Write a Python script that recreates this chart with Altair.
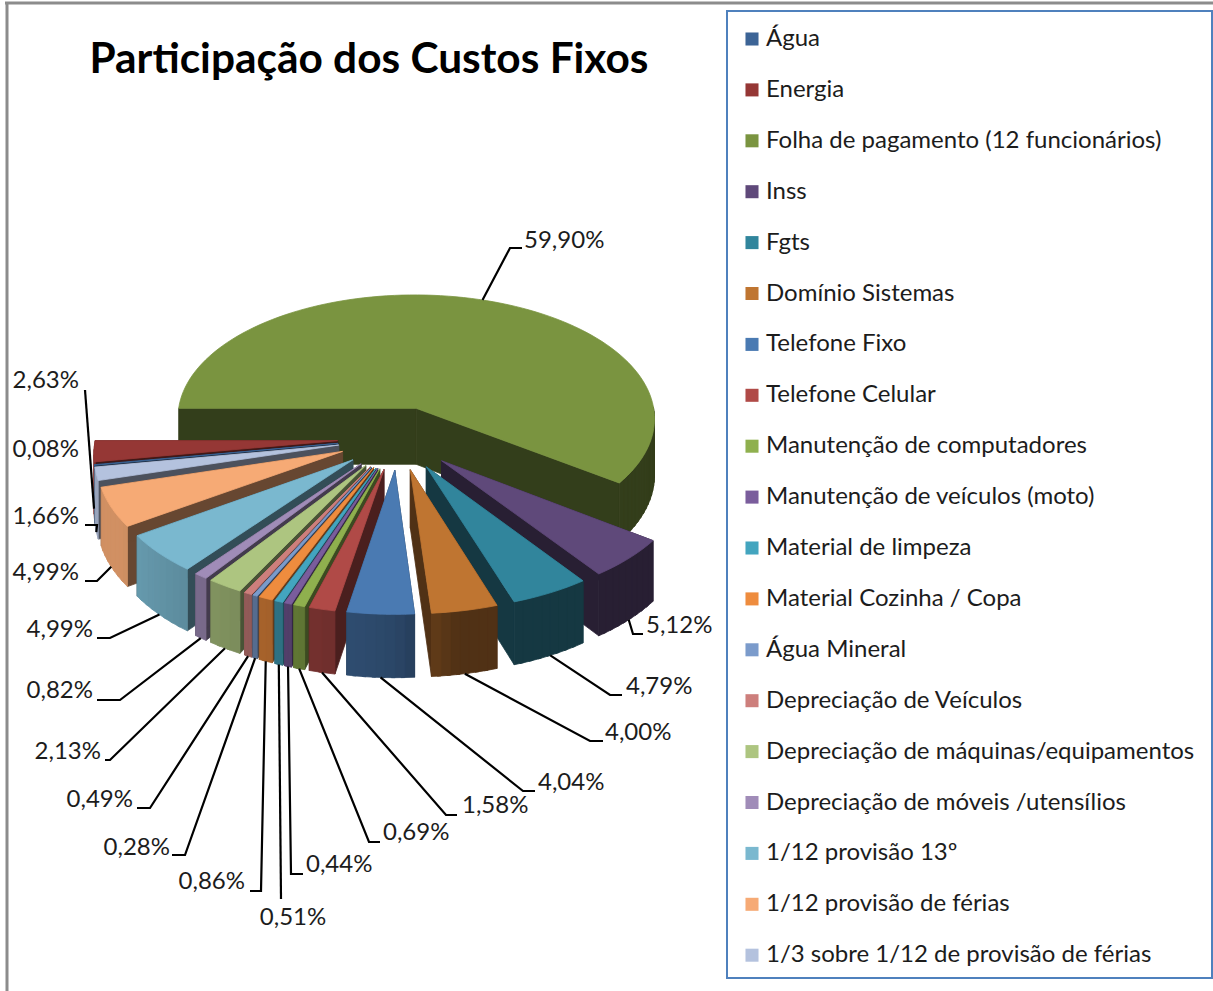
import math
import numpy as np
import altair as alt

# Cost categories, in legend order, with their share of the fixed costs (%)
categories = [
    "Água", "Energia", "Folha de pagamento (12 funcionários)", "Inss", "Fgts",
    "Domínio Sistemas", "Telefone Fixo", "Telefone Celular",
    "Manutenção de computadores", "Manutenção de veículos (moto)",
    "Material de limpeza", "Material Cozinha / Copa", "Água Mineral",
    "Depreciação de Veículos", "Depreciação de máquinas/equipamentos",
    "Depreciação de móveis /utensílios", "1/12 provisão 13º",
    "1/12 provisão de férias", "1/3 sobre 1/12 de provisão de férias",
]
shares = [0.08, 2.63, 59.90, 5.12, 4.79, 4.00, 4.04, 1.58, 0.69, 0.44,
          0.51, 0.86, 0.28, 0.49, 2.13, 0.82, 4.99, 4.99, 1.66]
palette = ["#3c6496", "#953735", "#7a9440", "#5f497a", "#31859c", "#bf7531",
           "#4a7ab2", "#b04a47", "#8fb04e", "#7a5d9c", "#43a5bf", "#ee8c3e",
           "#7b9bcb", "#cd7f7c", "#adc580", "#a08cb8", "#7ab8cf", "#f6aa75",
           "#b4c2de"]

# Pie projection: a tilted disc with mild perspective, extruded downwards
CX, CY = 398, 438
RX, RY = 242, 127
PERSPECTIVE = 0.08
DEPTH = 57
EXPLODE = 0.25
START_ANGLE = 260.24
RIM_OVERLAP = 0.8


def project(x, y, z=0.0):
    p = 1 / (1 + PERSPECTIVE * y)
    return [CX + RX * x * p, CY - RY * y * p + DEPTH * p * z]


def shade(hex_color, factor):
    r, g, b = (int(hex_color[i:i + 2], 16) for i in (1, 3, 5))
    return "#%02x%02x%02x" % (round(r * factor), round(g * factor), round(b * factor))


def rim_shade(angle):
    return float(np.interp(angle % 360, [90, 170, 180, 200, 240, 270], [.42, .42, .58, .68, .85, .85]))


def cut_shade(mid, edge):
    if mid < 180 or mid > 360:
        return 0.42
    return float(np.interp(edge, [190, 218, 236, 254], [.82, .65, .5, .43]))


def polygon(points, fill):
    ring = points + [points[0]]
    return {"type": "Feature", "properties": {"fill": fill},
            "geometry": {"type": "Polygon", "coordinates": [ring]}}


# Angular extent of every slice, clockwise from twelve o'clock
slices = []
angle = START_ANGLE
for name, share, colour in zip(categories, shares, palette):
    sweep = share * 3.6
    slices.append({"name": name, "share": share, "colour": colour,
                   "start": angle, "end": angle + sweep, "mid": angle + sweep / 2})
    angle += sweep


def disc_point(s, t, r=1.0):
    ox = EXPLODE * math.sin(math.radians(s["mid"]))
    oy = EXPLODE * math.cos(math.radians(s["mid"]))
    return ox + r * math.sin(math.radians(t)), oy + r * math.cos(math.radians(t))


faces = []
# Paint from the back of the disc towards the viewer
for s in sorted(slices, key=lambda item: -disc_point(item, item["mid"])[1]):
    apex = disc_point(s, s["mid"], 0)
    steps = max(2, int((s["end"] - s["start"]) / 2))
    arc = [s["start"] + (s["end"] - s["start"]) * i / steps for i in range(steps + 1)]
    for edge in (s["start"], s["end"]):
        outer = disc_point(s, edge)
        faces.append(polygon(
            [project(*apex), project(*outer), project(*outer, 1), project(*apex, 1)],
            shade(s["colour"], cut_shade(s["mid"], edge % 360))))
    # Rim strips overlap a little so that no seam shows between neighbours
    for a0, a1 in zip(arc, arc[1:]):
        centre = (a0 + a1) / 2 % 360
        if 90 <= centre <= 270:
            p0 = disc_point(s, a0)
            mid_arc = [disc_point(s, a1)]
            far = min(a1 + RIM_OVERLAP, s["end"])
            if far > a1:
                mid_arc.append(disc_point(s, far))
            faces.append(polygon(
                [project(*p0)] + [project(*p) for p in mid_arc]
                + [project(*p, 1) for p in reversed(mid_arc)] + [project(*p0, 1)],
                shade(s["colour"], rim_shade(centre))))
    faces.append(polygon([project(*apex)] + [project(*disc_point(s, t)) for t in arc], s["colour"]))

# Callout layout: elbow of each leader, end of its shelf, label anchor and alignment
callouts = {
    "Folha de pagamento (12 funcionários)": ((510, 248), (522, 248), (524, 241), "left"),
    "Inss": ((633, 634), (643, 634), (646, 626), "left"),
    "Fgts": ((610, 695), (622, 695), (626, 687), "left"),
    "Domínio Sistemas": ((590, 741), (603, 741), (605, 733), "left"),
    "Telefone Fixo": ((523, 791), (535, 791), (538, 783), "left"),
    "Telefone Celular": ((446, 815), (457, 815), (462, 806), "left"),
    "Manutenção de computadores": ((369, 842), (380, 842), (383, 833), "left"),
    "Manutenção de veículos (moto)": ((291, 874), (303, 874), (306, 865), "left"),
    "Material de limpeza": ((281, 899), (281, 899), (293, 918), "center"),
    "Material Cozinha / Copa": ((261, 891), (250, 891), (245, 882), "right"),
    "Água Mineral": ((185, 855), (172, 855), (170, 848), "right"),
    "Depreciação de Veículos": ((150, 808), (137, 808), (133, 800), "right"),
    "Depreciação de máquinas/equipamentos": ((110, 760), (105, 760), (101, 752), "right"),
    "Depreciação de móveis /utensílios": ((120, 700), (97, 700), (93, 691), "right"),
    "1/12 provisão 13º": ((110, 638), (97, 638), (93, 630), "right"),
    "1/12 provisão de férias": ((97, 581), (85, 581), (79, 573), "right"),
    "1/3 sobre 1/12 de provisão de férias": ((97, 525), (85, 525), (79, 517), "right"),
    "Energia": ((85, 390), (85, 390), (79, 381), "right"),
    "Água": (None, None, (79, 450), "right"),
}

leaders, labels = [], []
for s in slices:
    elbow, shelf, anchor, align = callouts[s["name"]]
    labels.append({"text": f"{s['share']:.2f}".replace(".", ",") + "%",
                   "x": anchor[0], "y": anchor[1], "align": align})
    if elbow is None:
        continue
    rim = disc_point(s, s["mid"])
    z = 1 if math.cos(math.radians(s["mid"])) < 0 else 0
    leaders.append({"type": "Feature", "properties": {},
                    "geometry": {"type": "LineString",
                                 "coordinates": [project(*rim, z), list(elbow), list(shelf)]}})

identity = dict(type="identity", scale=1, translate=[0, 0])

pie = alt.Chart(alt.Data(values=faces)).mark_geoshape(
    strokeWidth=0.8, opacity=1, fillOpacity=1, strokeOpacity=1
).encode(
    fill=alt.Fill("properties.fill:N", scale=None),
    stroke=alt.Stroke("properties.fill:N", scale=None),
).project(**identity)

leader_lines = alt.Chart(alt.Data(values=leaders)).mark_geoshape(
    filled=False, stroke="#000000", strokeWidth=2.2, opacity=1
).project(**identity)


def text_layer(align):
    rows = [row for row in labels if row["align"] == align]
    return alt.Chart(alt.Data(values=rows)).mark_text(
        font="Lato", fontSize=24, align=align, baseline="middle", color="#1c1c1c"
    ).encode(
        x=alt.X("x:Q", scale=None, axis=None),
        y=alt.Y("y:Q", scale=None, axis=None),
        text="text:N",
    )


title = alt.Chart(alt.Data(values=[{"t": "Participação dos Custos Fixos", "x": 369, "y": 60}])).mark_text(
    font="Lato", fontSize=42.4, fontWeight="bold", align="center", baseline="middle", color="#000000"
).encode(x=alt.X("x:Q", scale=None, axis=None), y=alt.Y("y:Q", scale=None, axis=None), text="t:N")

# Outer chart frame (top and left edges) and the box round the legend
frame_top = alt.Chart().mark_rule(color="#8c8c8c", strokeWidth=3).encode(
    x=alt.value(5), x2=alt.value(1213), y=alt.value(3))
frame_left = alt.Chart().mark_rule(color="#8c8c8c", strokeWidth=3).encode(
    x=alt.value(7), y=alt.value(3), y2=alt.value(991))
legend_box = alt.Chart().mark_rect(fill="#ffffff", stroke="#4f81bd", strokeWidth=2).encode(
    x=alt.value(727), x2=alt.value(1212), y=alt.value(11), y2=alt.value(978))

legend_key = alt.Chart(alt.Data(values=[{"name": n} for n in categories])).mark_square(
    size=150, opacity=1, filled=True
).encode(
    x=alt.value(-40), y=alt.value(-40),
    color=alt.Color(
        "name:N",
        scale=alt.Scale(domain=categories, range=palette),
        legend=alt.Legend(
            title=None, orient="none", legendX=740, legendY=27, columns=1,
            symbolType="square", symbolSize=170, symbolStrokeWidth=0,
            labelFont="Lato", labelFontSize=24, labelColor="#1c1c1c", labelLimit=470,
            labelOffset=2, rowPadding=26.9, symbolOpacity=1,
        ),
    ),
)

chart = alt.layer(
    frame_top, frame_left, legend_box, pie, leader_lines,
    text_layer("left"), text_layer("right"), text_layer("center"), title, legend_key,
).resolve_scale(color="independent").properties(
    width=1213, height=991, padding=0, background="#ffffff",
    autosize=alt.AutoSizeParams(type="none"),
).configure_view(stroke=None)

chart.save("out.html", embed_options={"renderer": "svg", "actions": False})
